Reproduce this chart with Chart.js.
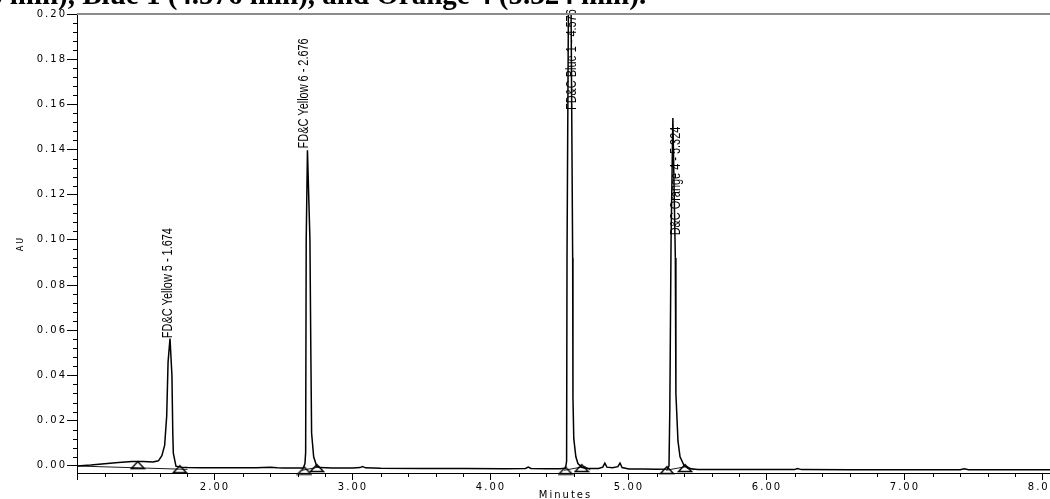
<!DOCTYPE html>
<html><head><meta charset="utf-8">
<script src="https://cdn.jsdelivr.net/npm/chart.js@4.4.1/dist/chart.umd.min.js"></script>
<style>
html,body{margin:0;padding:0;background:#fff;overflow:hidden;}
#wrap{position:relative;width:1050px;height:499px;overflow:hidden;background:#fff;}
#box{position:absolute;left:0;top:0;width:1100px;height:505px;}
#head{position:absolute;left:-12px;top:-20px;font:bold 29px 'Liberation Serif','Times New Roman',serif;line-height:29px;white-space:nowrap;color:#000;z-index:2;}
</style></head><body>
<div id="wrap"><div id="box"><canvas id="c" width="1100" height="505"></canvas></div>
<div id="head">6 min), Blue 1 (4.576 min), and Orange 4 (5.324 min).</div></div>
<script>
// ---- data ----
const timeMin = [
 1.00,1.10,1.20,1.30,1.40,1.48,1.55,1.59,1.615,1.635,1.650,1.660,1.674,1.688,1.694,1.698,1.717,1.75,1.80,1.90,2.10,2.30,2.40,2.45,2.50,2.60,
 2.640,2.652,2.657,2.661,2.670,2.688,2.694,2.700,2.715,2.737,2.76,2.85,3.00,3.05,3.07,3.09,3.20,3.50,3.80,4.10,4.25,4.27,4.29,4.40,4.50,
 4.540,4.548,4.551,4.570,4.592,4.594,4.600,4.615,4.630,4.66,4.70,4.78,4.81,4.825,4.84,4.88,4.92,4.935,4.95,5.00,5.10,5.20,
 5.280,5.290,5.296,5.305,5.318,5.336,5.340,5.355,5.370,5.400,5.430,5.50,5.80,6.10,6.20,6.22,6.25,6.60,7.00,7.40,7.43,7.46,7.70,8.00,8.40
];
const absorbanceAU = [
 -0.0001,0.0003,0.0009,0.0015,0.0019,0.0019,0.0017,0.0022,0.0045,0.009,0.022,0.046,0.0563,0.040,0.015,0.0056,-0.0002,-0.0006,-0.0008,-0.0009,-0.0009,-0.0009,-0.0007,-0.0009,-0.0010,-0.0010,
 -0.0010,0.001,0.006,0.100,0.1397,0.100,0.054,0.0145,0.004,-0.0002,-0.0008,-0.0010,-0.0010,-0.0008,-0.0003,-0.0009,-0.0011,-0.0012,-0.0012,-0.0013,-0.0012,-0.0006,-0.0012,-0.0013,-0.0013,
 -0.0011,0.002,0.092,0.300,0.092,0.030,0.012,0.004,0.001,-0.0008,-0.0012,-0.0012,-0.0006,0.0012,-0.0006,-0.0009,-0.0004,0.0012,-0.0008,-0.0014,-0.0014,-0.0015,
 -0.0014,0.000,0.025,0.100,0.154,0.092,0.032,0.011,0.004,0.000,-0.0012,-0.0016,-0.0017,-0.0017,-0.0017,-0.0012,-0.0017,-0.0018,-0.0018,-0.0018,-0.0013,-0.0018,-0.0018,-0.0018,-0.0018
];
// integration baselines (null = break)
const integTimes = [1.00,1.80,null,2.63,2.76,null,4.53,4.68,4.72,null,5.27,5.42,5.47];
const integAU    = [-0.0001,-0.0016,null,-0.0020,-0.0005,null,-0.0020,-0.0003,-0.0018,null,-0.0020,-0.0003,-0.0018];
// peak start / end markers
const triangleTimes = [1.44,1.745,2.648,2.738,4.540,4.657,5.275,5.406];
const triangleAU    = [0.0003,-0.0015,-0.0021,-0.0010,-0.0021,-0.0010,-0.0019,-0.0010];
// peak annotations
const peakTimes   = [1.674,2.676,4.576,5.324];
const peakNames   = ['FD&C Yellow 5 - 1.674','FD&C Yellow 6 - 2.676','FD&C Blue 1 - 4.576','D&C Orange 4 - 5.324'];
const peakLabelAU = [0.0565,0.1405,0.1575,0.102];
// axis ticks
const xTickValues = [1,2,3,4,5,6,7,8];
const yTickValues = [0,0.02,0.04,0.06,0.08,0.10,0.12,0.14,0.16,0.18,0.20];

// ---- styling ----
const labelDx = [2,0,6,6];
const tri = document.createElement('canvas'); tri.width = 16; tri.height = 10;
(function(){const t=tri.getContext('2d');t.strokeStyle='#000';t.lineWidth=1.4;t.lineJoin='miter';t.beginPath();t.moveTo(1.5,8.5);t.lineTo(8,1.5);t.lineTo(14.5,8.5);t.closePath();t.stroke();})();

const decor = {
  id:'decor',
  beforeDraw(chart){ chart.ctx.letterSpacing = '2px'; },
  afterDatasetsDraw(chart){
    const {ctx, scales:{x,y}} = chart;
    ctx.save();
    ctx.letterSpacing = '0px';
    ctx.fillStyle = '#000';
    ctx.font = "14px 'Liberation Sans', Arial, sans-serif";
    ctx.textAlign = 'left'; ctx.textBaseline = 'alphabetic';
    peakNames.forEach((name,i)=>{
      const px = x.getPixelForValue(peakTimes[i]) + labelDx[i];
      const py = y.getPixelForValue(peakLabelAU[i]);
      ctx.save(); ctx.translate(px,py); ctx.rotate(-Math.PI/2); ctx.scale(0.78,1);
      ctx.fillText(name,0,0); ctx.restore();
    });
    ctx.restore();
  },
  afterDraw(chart){
    const {ctx, chartArea:a, scales:{x,y}} = chart;
    ctx.save();
    ctx.strokeStyle = '#8c8c8c'; ctx.lineWidth = 2;
    ctx.beginPath(); ctx.moveTo(a.left, a.top); ctx.lineTo(1100, a.top); ctx.stroke();
    ctx.strokeStyle = '#000'; ctx.lineWidth = 1;
    ctx.beginPath();
    for (let k = 1; ; k++) {
      const v = 1 + k*0.2; if (v > x.max) break;
      if (k % 5 === 0) continue;
      const px = Math.round(x.getPixelForValue(v)) + 0.5;
      ctx.moveTo(px, a.bottom); ctx.lineTo(px, a.bottom + 4);
    }
    for (let k = 1; k < 50; k++) {
      if (k % 5 === 0) continue;
      const py = Math.round(y.getPixelForValue(k*0.004)) + 0.5;
      ctx.moveTo(a.left - 4, py); ctx.lineTo(a.left, py);
    }
    ctx.stroke();
    ctx.restore();
  }
};

const tickFont = {family:"'DejaVu Sans', sans-serif", size:10};
new Chart(document.getElementById('c'), {
  type:'line',
  data:{datasets:[
    {data: timeMin.map((t,i)=>({x:t,y:absorbanceAU[i]})), borderColor:'#000', borderWidth:1.5, pointRadius:0, tension:0},
    {data: integTimes.map((t,i)=>({x:t,y:integAU[i]})), borderColor:'#000', borderWidth:0.9, pointRadius:0, spanGaps:false, tension:0},
    {data: triangleTimes.map((t,i)=>({x:t,y:triangleAU[i]})), showLine:false, pointStyle:tri, pointRadius:6, clip:false}
  ]},
  options:{
    responsive:false, animation:false,
    layout:{padding:{left:0,right:46,top:14,bottom:0}},
    plugins:{legend:{display:false}, tooltip:{enabled:false}},
    scales:{
      x:{type:'linear', min:1, max:8.08,
        afterBuildTicks:s=>{s.ticks = xTickValues.map(v=>({value:v}));},
        afterFit:s=>{s.height = 32;},
        ticks:{callback:v=> v===1 ? '' : v.toFixed(2), font:tickFont, color:'#000', padding:1, maxRotation:0, autoSkip:false},
        grid:{drawOnChartArea:false, tickLength:7, color:'#000', tickColor:'#000'},
        border:{color:'#000', width:1},
        title:{display:true, text:'Minutes', font:tickFont, color:'#000', padding:{top:0,bottom:4}}
      },
      y:{type:'linear', min:-0.0032, max:0.2,
        afterBuildTicks:s=>{s.ticks = yTickValues.map(v=>({value:v}));},
        afterFit:s=>{s.width = 77;},
        ticks:{callback:v=>v.toFixed(2), font:tickFont, color:'#000', padding:0, autoSkip:false},
        grid:{drawOnChartArea:false, tickLength:10, color:'#000', tickColor:'#000'},
        border:{color:'#000', width:1},
        title:{display:true, text:'AU', font:{family:"'DejaVu Sans', sans-serif", size:8}, color:'#000', padding:{top:16,bottom:0}}
      }
    }
  },
  plugins:[decor]
});
</script>
</body></html>
